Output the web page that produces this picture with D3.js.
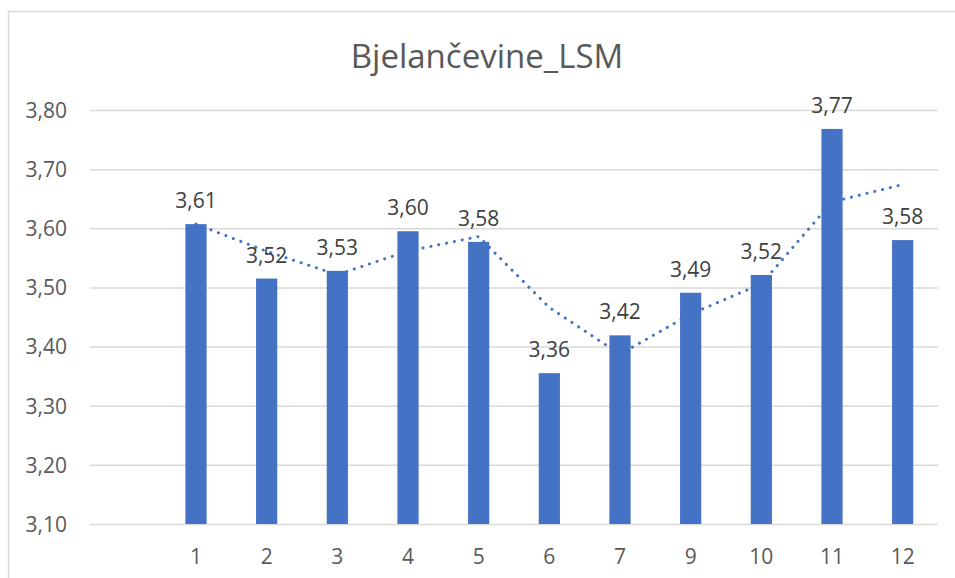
<!DOCTYPE html>
<html>
<head>
<meta charset="utf-8">
<script src="https://cdn.jsdelivr.net/npm/d3@7"></script>
<style>
html,body{margin:0;padding:0;background:#fff;}
svg{display:block;}
svg text{font-family:"Open Sans","Noto Sans",sans-serif;}
</style>
</head>
<body>
<svg id="chart" width="955" height="578"></svg>
<script>
const title = "Bjelančevine_LSM";
const categories = ["", "1", "2", "3", "4", "5", "6", "7", "9", "10", "11", "12"];
const values = [null, 3.607, 3.515, 3.528, 3.595, 3.577, 3.355, 3.419, 3.491, 3.521, 3.768, 3.580];
const labels = ["", "3,61", "3,52", "3,53", "3,60", "3,58", "3,36", "3,42", "3,49", "3,52", "3,77", "3,58"];
const yTicks = [3.1, 3.2, 3.3, 3.4, 3.5, 3.6, 3.7, 3.8];
const yTickLabels = ["3,10", "3,20", "3,30", "3,40", "3,50", "3,60", "3,70", "3,80"];

const svg = d3.select("#chart");
const FONT = '"Open Sans","Noto Sans",sans-serif';

// chart border
svg.append("rect").attr("x", 8.5).attr("y", 11.5).attr("width", 1000).attr("height", 1000)
  .attr("fill", "none").attr("stroke", "#d9d9d9").attr("stroke-width", 1.5);

const x = d3.scaleBand().domain(categories.map((c, i) => i)).range([90, 938]).paddingInner(0.7).paddingOuter(0.35);
const y = d3.scaleLinear().domain([3.1, 3.8]).range([524, 110]);

// gridlines
const yAxis = d3.axisLeft(y).tickValues(yTicks).tickSize(-(938 - 90)).tickFormat((d, i) => yTickLabels[i]);
const gy = svg.append("g").attr("transform", "translate(90,0)").call(yAxis).attr("font-family", FONT);
gy.select(".domain").remove();
gy.selectAll(".tick line").attr("stroke", "#d9d9d9").attr("stroke-width", 1.5);
gy.selectAll(".tick text").attr("x", -23).attr("fill", "#595959").style("font-size", "21px").attr("dy", "0.35em");

// x axis
const xAxis = d3.axisBottom(x).tickSize(0).tickFormat(i => categories[i]);
const gx = svg.append("g").attr("transform", "translate(0,524)").call(xAxis).attr("font-family", FONT);
gx.select(".domain").remove();
gx.selectAll(".tick text").attr("fill", "#595959").style("font-size", "21px").attr("y", 40).attr("dy", "0");

// bars
const data = values.map((v, i) => ({i, v, label: labels[i]})).filter(d => d.v !== null);
svg.append("g").selectAll("rect").data(data).join("rect")
  .attr("x", d => x(d.i)).attr("width", x.bandwidth())
  .attr("y", d => y(d.v)).attr("height", d => y(3.1) - y(d.v))
  .attr("fill", "#4472c4");

// moving average trendline (period 2)
const trend = [];
for (let i = 1; i < values.length; i++) {
  const win = [values[i - 1], values[i]].filter(v => v !== null);
  trend.push({i, v: d3.mean(win)});
}
const line = d3.line().x(d => x(d.i) + x.bandwidth() / 2).y(d => y(d.v));
svg.append("path").datum(trend).attr("d", line)
  .attr("fill", "none").attr("stroke", "#4472c4").attr("stroke-width", 3)
  .attr("stroke-linecap", "round").attr("stroke-dasharray", "0.1 7.9");

// data labels
svg.append("g").selectAll("text").data(data).join("text")
  .attr("x", d => x(d.i) + x.bandwidth() / 2).attr("y", d => y(d.v) - 16)
  .attr("text-anchor", "middle").attr("fill", "#404040").style("font-size", "21px")
  .text(d => d.label);

// title
svg.append("text").attr("x", 487).attr("y", 68).attr("text-anchor", "middle")
  .attr("fill", "#595959").style("font-size", "33px").text(title);
</script>
</body>
</html>
